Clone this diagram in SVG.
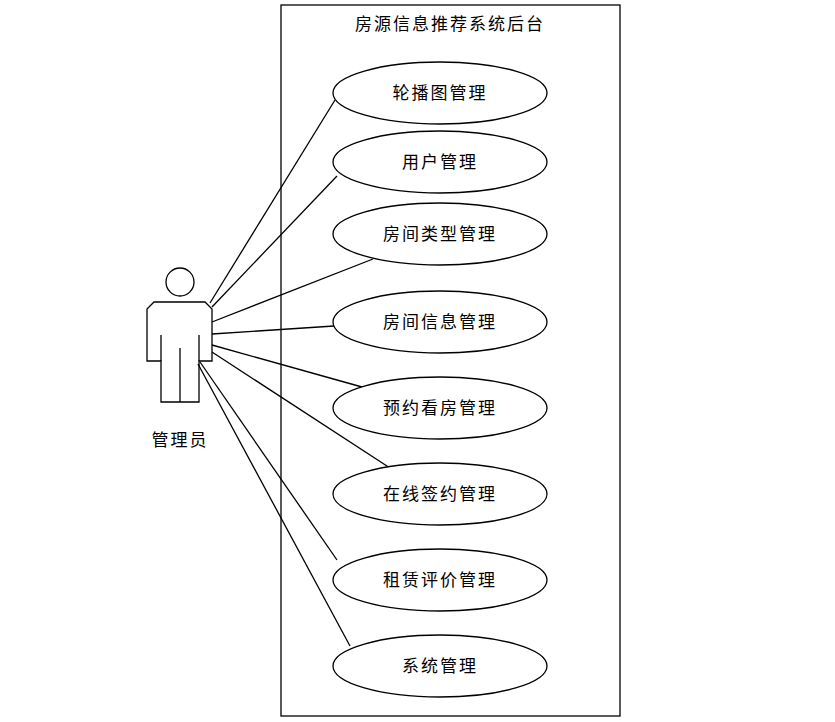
<svg xmlns="http://www.w3.org/2000/svg" width="835" height="722" viewBox="0 0 835 722">
<style>
.s{fill:none;stroke:#000;stroke-width:1.3}
.e{fill:#fff;stroke:#000;stroke-width:1.3}
text{font-family:"Noto Sans CJK SC","Noto Serif CJK SC",serif;font-size:17px;text-anchor:middle;letter-spacing:2px}
</style>
<rect width="835" height="722" fill="#fff"/>
<g id="system"><rect class="s" x="281" y="5" width="339" height="711"/><text x="450" y="30">房源信息推荐系统后台</text></g>
<g id="connectors" class="s">
<line x1="210" y1="303" x2="335" y2="100"/>
<line x1="212" y1="307" x2="337" y2="176"/>
<line x1="212" y1="322" x2="373" y2="259"/>
<line x1="212" y1="334" x2="334" y2="326"/>
<line x1="212" y1="345" x2="362" y2="387"/>
<line x1="212" y1="352" x2="390" y2="468"/>
<line x1="200" y1="362" x2="337" y2="560"/>
<line x1="198" y1="364" x2="350" y2="646"/>
</g>
<g id="actor" class="s">
<circle cx="180" cy="282" r="14"/>
<path d="M154 302 H205 L212 309 V361 H199 V402 H161 V361 H147 V309 Z"/>
<path d="M161 335 V361 M199 335 V361 M180 348 V402"/>
<text x="180" y="446" stroke="none" fill="#000">管理员</text>
</g>
<g id="uc1"><ellipse class="e" cx="440" cy="93" rx="107" ry="31"/><text x="440" y="99">轮播图管理</text></g>
<g id="uc2"><ellipse class="e" cx="440" cy="162" rx="107" ry="31"/><text x="440" y="168">用户管理</text></g>
<g id="uc3"><ellipse class="e" cx="440" cy="234" rx="107" ry="31"/><text x="440" y="240">房间类型管理</text></g>
<g id="uc4"><ellipse class="e" cx="440" cy="322" rx="107" ry="31"/><text x="440" y="328">房间信息管理</text></g>
<g id="uc5"><ellipse class="e" cx="440" cy="408" rx="107" ry="31"/><text x="440" y="414">预约看房管理</text></g>
<g id="uc6"><ellipse class="e" cx="440" cy="494" rx="107" ry="31"/><text x="440" y="500">在线签约管理</text></g>
<g id="uc7"><ellipse class="e" cx="440" cy="580" rx="107" ry="31"/><text x="440" y="586">租赁评价管理</text></g>
<g id="uc8"><ellipse class="e" cx="440" cy="666" rx="107" ry="31"/><text x="440" y="672">系统管理</text></g>
</svg>
